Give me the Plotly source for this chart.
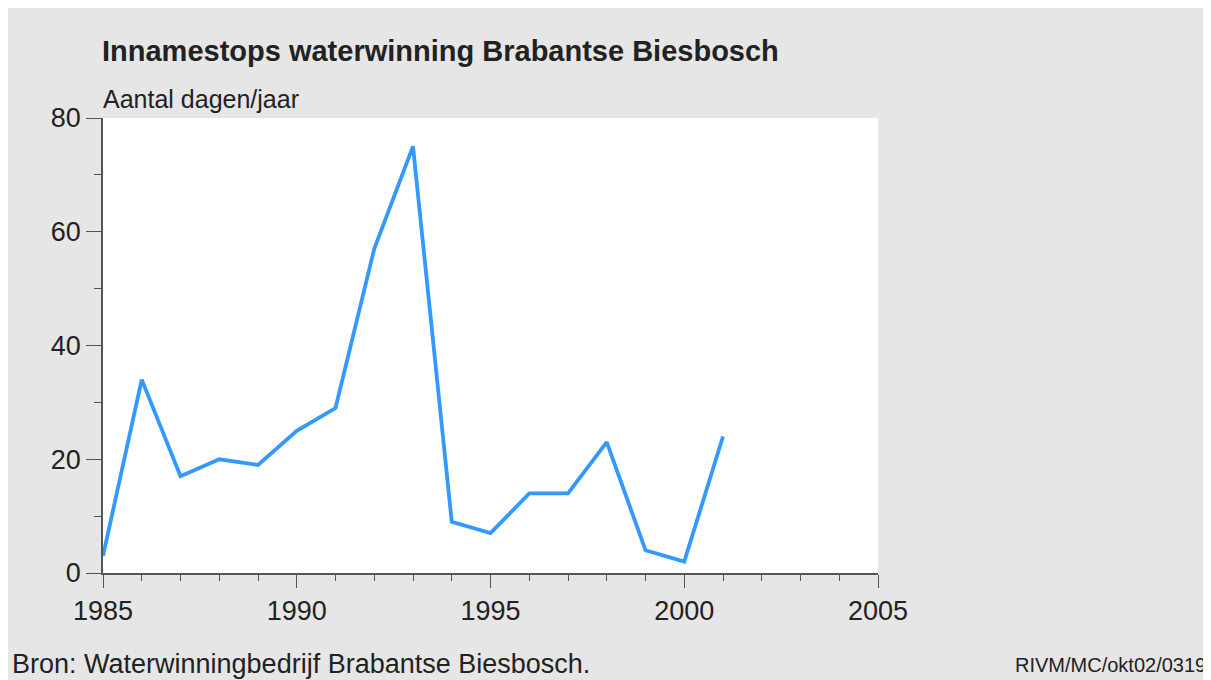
import plotly.graph_objects as go

years = [1985, 1986, 1987, 1988, 1989, 1990, 1991, 1992, 1993, 1994, 1995,
         1996, 1997, 1998, 1999, 2000, 2001]
days = [3, 34, 17, 20, 19, 25, 29, 57, 75, 9, 7, 14, 14, 23, 4, 2, 24]

title_text = "Innamestops waterwinning Brabantse Biesbosch"
unit_text = "Aantal dagen/jaar"
source_text = "Bron: Waterwinningbedrijf Brabantse Biesbosch."
code_text = "RIVM/MC/okt02/0319"

# the page body adds an 8px margin; lay the figure out in page pixels
OFF = 8
W, H = 1211 - OFF, 680 - OFF
L, R, T, B = 103 - OFF, 878 - OFF, 118 - OFF, 573 - OFF


def px(x):
    return (x - OFF - L) / (R - L)


def py(y):
    return (B - (y - OFF)) / (B - T)


FONT = "Liberation Sans, Arial, sans-serif"
TXT = "#222222"

fig = go.Figure()
fig.add_trace(go.Scatter(
    x=years, y=days, mode="lines",
    line=dict(color="#3399ff", width=3.8),
    showlegend=False, hoverinfo="x+y",
))

axis_col = "#555555"
fig.update_layout(
    width=W, height=H,
    margin=dict(l=L, r=W - R, t=T, b=H - B, pad=0),
    paper_bgcolor="#e6e6e6",
    plot_bgcolor="#ffffff",
    font=dict(family=FONT, color=TXT),
    xaxis=dict(
        range=[1985, 2005], tick0=1985, dtick=5,
        showgrid=False, zeroline=False,
        showline=True, linecolor=axis_col, linewidth=1.5,
        ticks="outside", ticklen=13, tickcolor=axis_col, tickwidth=1,
        tickfont=dict(size=27, family=FONT, color=TXT),
        minor=dict(dtick=1, ticks="outside", ticklen=6, tickcolor=axis_col,
                   tickwidth=1, showgrid=False),
        fixedrange=True,
    ),
    yaxis=dict(
        range=[0, 80], tick0=0, dtick=20,
        showgrid=False, zeroline=False,
        showline=True, linecolor=axis_col, linewidth=1.5,
        ticks="outside", ticklen=15, tickcolor=axis_col, tickwidth=1,
        tickfont=dict(size=27, family=FONT, color=TXT),
        minor=dict(dtick=10, ticks="outside", ticklen=7, tickcolor=axis_col,
                   tickwidth=1, showgrid=False),
        fixedrange=True,
    ),
    annotations=[
        dict(text="<b>" + title_text + "</b>", xref="paper", yref="paper",
             x=px(100), y=py(51), xanchor="left", yanchor="middle",
             showarrow=False, font=dict(size=29, family=FONT, color=TXT)),
        dict(text=unit_text, xref="paper", yref="paper",
             x=px(101), y=py(99), xanchor="left", yanchor="middle",
             showarrow=False, font=dict(size=25, family=FONT, color=TXT)),
        dict(text=source_text, xref="paper", yref="paper",
             x=px(10), y=py(664), xanchor="left", yanchor="middle",
             showarrow=False, font=dict(size=27, family=FONT, color=TXT)),
        dict(text=code_text, xref="paper", yref="paper",
             x=px(1013), y=py(665), xanchor="left", yanchor="middle",
             showarrow=False, font=dict(size=20, family=FONT, color=TXT)),
    ],
)

fig.write_html("out.html")
